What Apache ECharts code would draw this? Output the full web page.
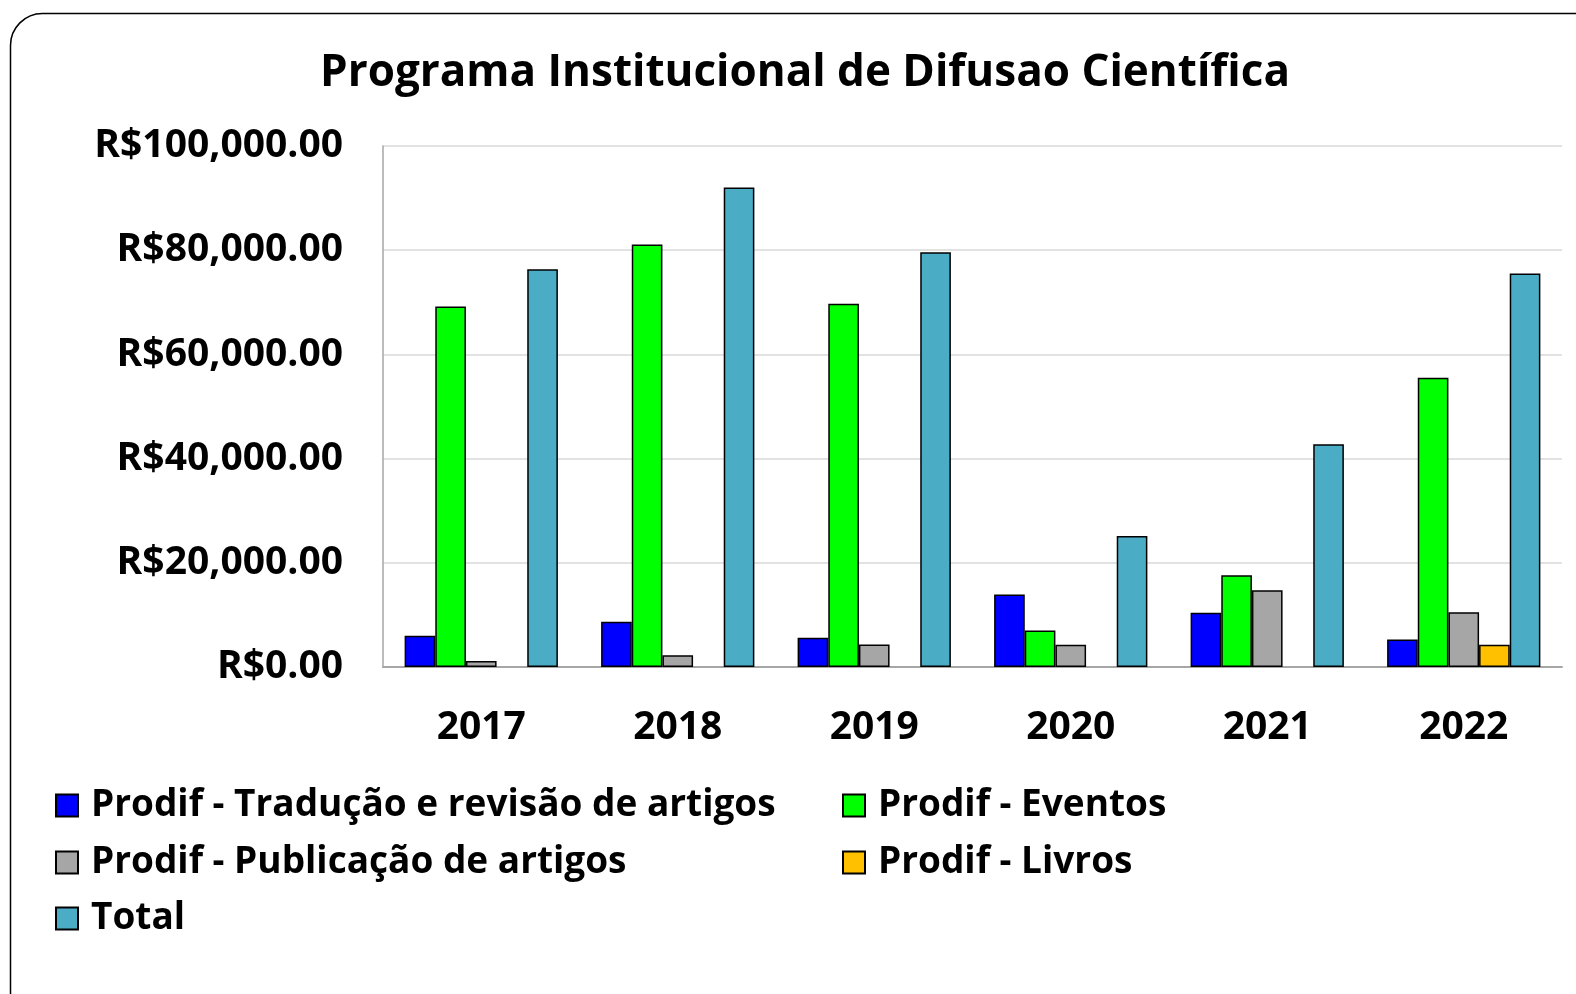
<!DOCTYPE html>
<html><head><meta charset="utf-8">
<script src="https://cdn.jsdelivr.net/npm/echarts@6/dist/echarts.min.js"></script>
<style>html,body{margin:0;padding:0;background:#fff}#c{width:1576px;height:994px}</style>
</head><body><div id="c"></div>
<script>
const years = ['2017','2018','2019','2020','2021','2022'];
const traducao = [6000, 8700, 5600, 13900, 10400, 5300];
const eventos = [69200, 81100, 69700, 7000, 17600, 55500];
const publicacao = [1150, 2250, 4300, 4250, 14750, 10500];
const livros = [null, null, null, null, null, 4250];
const total = [76350, 92050, 79600, 25150, 42750, 75550];
const seriesNames = ['Prodif - Tradução e revisão de artigos','Prodif - Eventos','Prodif - Publicação de artigos','Prodif - Livros','Total'];
const seriesColors = ['#0000ff','#00ff00','#a6a6a6','#ffc000','#4bacc6'];
const yTicks = [0, 20000, 40000, 60000, 80000, 100000];

const chart = echarts.init(document.getElementById('c'));
const FONT = '"Open Sans", "Noto Sans", sans-serif';
const dataSets = [traducao, eventos, publicacao, livros, total];
const legendPos = [[55,787],[842,787],[55,844],[842,844],[55,900]];
chart.setOption({
  animation: false,
  graphic: [{type:'rect', shape:{x:10.5,y:13.5,width:1600,height:1010,r:32}, style:{fill:'none', stroke:'#000', lineWidth:1.5}, z:-1}],
  title: {text:'Programa Institucional de Difusao Científica', left:800, top:46, textAlign:'center',
    textStyle:{fontFamily:FONT, fontWeight:'bold', fontSize:44, color:'#000'}},
  legend: seriesNames.map((n,i)=>({data:[n], left:legendPos[i][0], top:legendPos[i][1], padding:0, icon:'rect', itemWidth:22, itemHeight:22, itemGap:10,
    textStyle:{fontFamily:FONT, fontWeight:'bold', fontSize:37, color:'#000', padding:[0,0,0,8]}})),
  grid: {left:383, right:14, top:146, bottom:327},
  xAxis: {type:'category', data:years, axisTick:{show:false},
    axisLine:{lineStyle:{color:'#a6a6a6', width:2}},
    axisLabel:{fontFamily:FONT, fontWeight:'bold', fontSize:39, color:'#000', margin:41}},
  yAxis: {type:'value', min:0, max:100000, interval:20000,
    axisLine:{show:true, lineStyle:{color:'#a6a6a6', width:1.5}},
    splitLine:{lineStyle:{color:'#d9d9d9', width:1.5}},
    axisLabel:{fontFamily:FONT, fontWeight:'bold', fontSize:39, color:'#000', margin:40,
      formatter: v => 'R$' + v.toLocaleString('en-US',{minimumFractionDigits:2, maximumFractionDigits:2})}},
  series: seriesNames.map((n,i)=>({name:n, type:'bar', data:dataSets[i], barGap:'0%', barCategoryGap:'22%',
    itemStyle:{color:seriesColors[i], borderColor:'#000', borderWidth:1.5}}))
});
</script></body></html>
